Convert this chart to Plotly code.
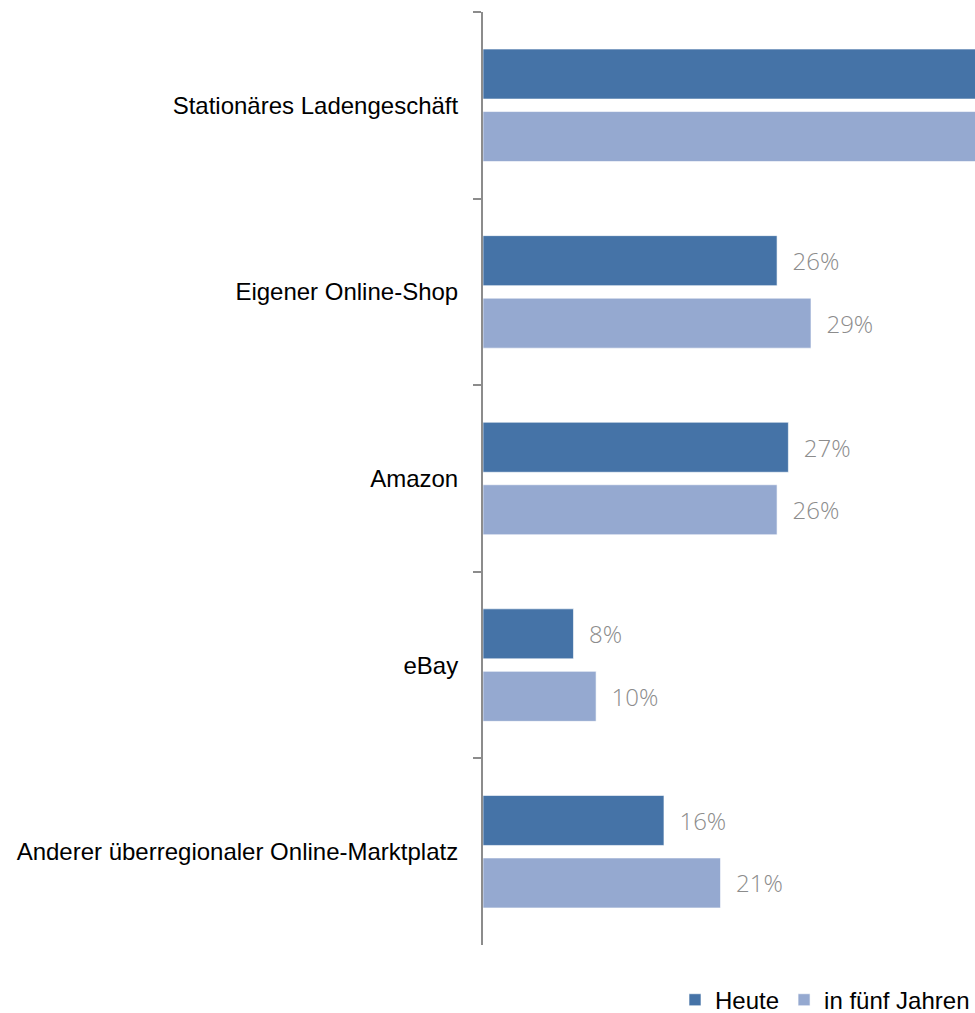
import plotly.graph_objects as go

categories = ["Stationäres Ladengeschäft", "Eigener Online-Shop", "Amazon", "eBay",
              "Anderer überregionaler Online-Marktplatz"]
heute = [62, 26, 27, 8, 16]
fuenf_jahre = [58, 29, 26, 10, 21]
series_names = ["Heute", "in fünf Jahren"]
colors = ["#4573A7", "#95A9D0"]
x_max = 43.5

pad = "\u00a0\u00a0"
fig = go.Figure()
for name, vals, col in zip(series_names, [heute, fuenf_jahre], colors):
    fig.add_trace(go.Bar(
        y=categories, x=vals, name=name, orientation="h",
        marker=dict(color=col, line=dict(color="rgba(255,255,255,0.6)", width=1)),
        text=[pad + f"{v}%" for v in vals],
        textposition=["none" if v > x_max else "outside" for v in vals],
        textfont=dict(family="Open Sans", size=24, color="#8C8C8C", weight=300),
        cliponaxis=True,
    ))

fig.update_layout(
    width=975, height=1013,
    margin=dict(l=483, r=0, t=12, b=68, autoexpand=False),
    paper_bgcolor="white", plot_bgcolor="white",
    barmode="group", bargap=0.33, bargroupgap=0.2,
    showlegend=True,
    legend=dict(orientation="h", x=1, xanchor="right", y=-0.035, yanchor="top",
                font=dict(family="Liberation Sans, Arial", size=24, color="black"),
                itemwidth=30, traceorder="normal"),
    font=dict(family="Liberation Sans, Arial", size=24, color="black"),
)
fig.update_xaxes(range=[0, x_max], visible=False, showgrid=False, zeroline=False)
fig.update_yaxes(autorange="reversed", showline=True, linecolor="#8C8C8C", linewidth=2,
                 ticks="outside", tickson="boundaries", ticklen=8, tickcolor="#8C8C8C",
                 tickwidth=2, ticklabelstandoff=18,
                 tickfont=dict(family="Liberation Sans, Arial", size=24, color="black"),
                 showgrid=False, automargin=False)

fig.write_html("out.html", config={"displayModeBar": False},
               post_script="document.body.style.margin='0';document.body.style.overflow='hidden';")
